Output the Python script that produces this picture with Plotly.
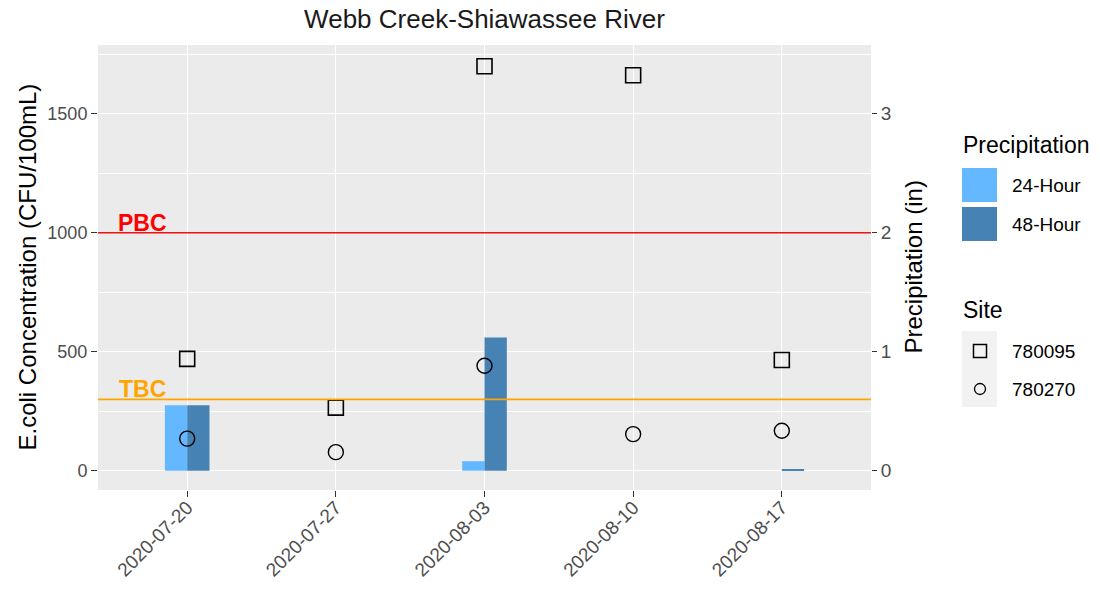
import plotly.graph_objects as go

# Sampling dates (discrete axis)
dates = ["2020-07-20", "2020-07-27", "2020-08-03", "2020-08-10", "2020-08-17"]

# E. coli concentration (CFU/100mL) by site
ecoli_780095 = [470, 265, 1700, 1662, 465]
ecoli_780270 = [135, 78, 441, 154, 168]

# Precipitation (in)
precip_24h = [0.55, 0, 0.08, 0, 0]
precip_48h = [0.55, 0, 1.12, 0, 0.01]

# Bacteria criteria
pbc_value = 1000
tbc_value = 300

W, H = 1100, 594
PL, PR, PT, PB = 98, 871, 45, 490          # panel box in pixels
ECOLI_RANGE = [-81, 1789]
SCALE = 500                                  # CFU per inch of precipitation
PRECIP_RANGE = [ECOLI_RANGE[0] / SCALE, ECOLI_RANGE[1] / SCALE]

FONT = "Liberation Sans, Arial, sans-serif"
TICK_COLOR = "#4D4D4D"
LIGHT = "#63B8FF"
DARK = "#4682B4"


def px_x(px):
    return (px - PL) / (PR - PL)


def px_y(py):
    return (PB - py) / (PB - PT)


fig = go.Figure()

# Precipitation bars (primary axis, right side)
fig.add_trace(go.Bar(x=dates, y=precip_24h, width=0.15, offset=-0.15,
                     marker=dict(color=LIGHT, line=dict(width=0)),
                     name="24-Hour", yaxis="y", showlegend=False))
fig.add_trace(go.Bar(x=dates, y=precip_48h, width=0.15, offset=0,
                     marker=dict(color=DARK, line=dict(width=0)),
                     name="48-Hour", yaxis="y", showlegend=False))

# E. coli points (overlaying axis, left side)
fig.add_trace(go.Scatter(x=dates, y=ecoli_780095, mode="markers", yaxis="y2",
                         marker=dict(symbol="square-open", size=15, color="black",
                                     line=dict(width=1.6, color="black")),
                         name="780095", showlegend=False))
fig.add_trace(go.Scatter(x=dates, y=ecoli_780270, mode="markers", yaxis="y2",
                         marker=dict(symbol="circle-open", size=15, color="black",
                                     line=dict(width=1.4, color="black")),
                         name="780270", showlegend=False))

shapes = [
    dict(type="line", xref="paper", x0=0, x1=1, yref="y2", y0=pbc_value, y1=pbc_value,
         line=dict(color="#F01010", width=1.4), layer="above"),
    dict(type="line", xref="paper", x0=0, x1=1, yref="y2", y0=tbc_value, y1=tbc_value,
         line=dict(color="#FFA500", width=1.6), layer="above"),
]

annotations = [
    dict(text="<b>PBC</b>", x=-0.3, xref="x", y=pbc_value, yref="y2",
         xanchor="center", yanchor="bottom", yshift=-5, showarrow=False,
         font=dict(family=FONT, size=23, color="#FF0000")),
    dict(text="<b>TBC</b>", x=-0.3, xref="x", y=tbc_value, yref="y2",
         xanchor="center", yanchor="bottom", yshift=-5, showarrow=False,
         font=dict(family=FONT, size=23, color="#FFA500")),
    # axis titles
    dict(text="E.coli Concentration (CFU/100mL)", x=px_x(27), xref="paper",
         y=0.5, yref="paper", textangle=-90, showarrow=False,
         xanchor="center", yanchor="middle",
         font=dict(family=FONT, size=24, color="black")),
    dict(text="Precipitation (in)", x=px_x(913), xref="paper",
         y=0.5, yref="paper", textangle=-90, showarrow=False,
         xanchor="center", yanchor="middle",
         font=dict(family=FONT, size=24, color="black")),
]

# Legend: Precipitation
annotations.append(dict(text="Precipitation", x=px_x(961), xref="paper", y=px_y(145),
                        yref="paper", xanchor="left", yanchor="middle", showarrow=False,
                        font=dict(family=FONT, size=23, color="black")))
for label, color, top in [("24-Hour", LIGHT, 168), ("48-Hour", DARK, 207)]:
    shapes.append(dict(type="rect", xref="paper", yref="paper",
                       x0=px_x(962), x1=px_x(997), y0=px_y(top + 34), y1=px_y(top),
                       fillcolor=color, line=dict(width=0), layer="above"))
    annotations.append(dict(text=label, x=px_x(1010), xref="paper", y=px_y(top + 17),
                            yref="paper", xanchor="left", yanchor="middle",
                            showarrow=False,
                            font=dict(family=FONT, size=19, color="black")))

# Legend: Site
annotations.append(dict(text="Site", x=px_x(961), xref="paper", y=px_y(310),
                        yref="paper", xanchor="left", yanchor="middle", showarrow=False,
                        font=dict(family=FONT, size=23, color="black")))
shapes.append(dict(type="rect", xref="paper", yref="paper",
                   x0=px_x(962), x1=px_x(997), y0=px_y(407), y1=px_y(331),
                   fillcolor="#F2F2F2", line=dict(width=0), layer="above"))
shapes.append(dict(type="rect", xref="paper", yref="paper",
                   x0=px_x(973.5), x1=px_x(986.5), y0=px_y(357.5), y1=px_y(344.5),
                   fillcolor="rgba(0,0,0,0)", line=dict(color="black", width=1.5),
                   layer="above"))
shapes.append(dict(type="circle", xref="paper", yref="paper",
                   x0=px_x(974.5), x1=px_x(985.5), y0=px_y(394.5), y1=px_y(383.5),
                   fillcolor="rgba(0,0,0,0)", line=dict(color="black", width=1.3),
                   layer="above"))
for label, yc in [("780095", 351), ("780270", 389)]:
    annotations.append(dict(text=label, x=px_x(1010), xref="paper", y=px_y(yc),
                            yref="paper", xanchor="left", yanchor="middle",
                            showarrow=False,
                            font=dict(family=FONT, size=19, color="black")))

fig.update_layout(
    width=W, height=H,
    margin=dict(l=PL, r=W - PR, t=PT, b=H - PB, pad=0),
    paper_bgcolor="white",
    plot_bgcolor="#EBEBEB",
    barmode="overlay",
    showlegend=False,
    font=dict(family=FONT, color=TICK_COLOR),
    title=dict(text="Webb Creek-Shiawassee River", x=px_x(484.5), xref="paper",
               xanchor="center", y=1 - 19 / H, yref="container", yanchor="middle",
               font=dict(family=FONT, size=26, color="#1A1A1A")),
    xaxis=dict(type="category", categoryorder="array", categoryarray=dates,
               range=[-0.6, 4.6], showgrid=True, gridcolor="white", gridwidth=1.2,
               zeroline=False, showline=False,
               ticks="outside", ticklen=6, tickwidth=1.1, tickcolor="#333333",
               ticklabelstandoff=-8,
               tickangle=-45, tickfont=dict(family=FONT, size=19, color=TICK_COLOR)),
    yaxis=dict(range=PRECIP_RANGE, side="right", tickvals=[0, 1, 2, 3],
               showgrid=True, gridcolor="white", gridwidth=1.2, zeroline=False,
               minor=dict(tickvals=[0.5, 1.5, 2.5, 3.5], showgrid=True,
                          gridcolor="white", gridwidth=0.6, ticks=""),
               ticks="outside", ticklen=5, tickwidth=1.1, tickcolor="#333333",
               tickfont=dict(family=FONT, size=19, color=TICK_COLOR)),
    yaxis2=dict(range=ECOLI_RANGE, overlaying="y", side="left",
                tickvals=[0, 500, 1000, 1500], showgrid=False, zeroline=False,
                ticks="outside", ticklen=6, tickwidth=1.1, tickcolor="#333333",
                tickfont=dict(family=FONT, size=18, color=TICK_COLOR)),
    shapes=shapes,
    annotations=annotations,
)

fig.write_html("out.html")
